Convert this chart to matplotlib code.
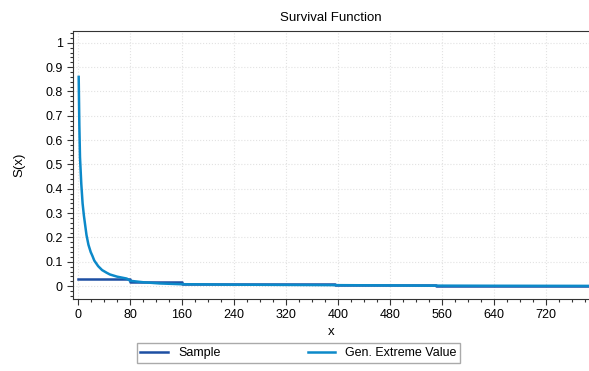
import matplotlib
matplotlib.use("Agg")
import matplotlib.pyplot as plt
from matplotlib.ticker import MultipleLocator

plt.rcParams["font.family"] = ["Liberation Sans", "DejaVu Sans"]

# 標本の生存関数（階段状）
sample_x = [0, 80, 80, 160, 160, 395, 395, 550, 550, 786]
sample_y = [0.030, 0.030, 0.018, 0.018, 0.008, 0.008, 0.004, 0.004, 0.001, 0.001]

# 一般化極値分布の生存関数
gev_x = [1, 2, 3, 5, 7, 9, 11, 13, 16, 19.5, 22, 25, 31, 37, 44, 49, 60, 75,
         80, 100, 126, 157, 200, 240, 320, 400, 480, 550, 640, 786]
gev_y = [0.86, 0.66, 0.53, 0.42, 0.34, 0.29, 0.25, 0.21, 0.17, 0.14, 0.125, 0.105,
         0.082, 0.066, 0.055, 0.048, 0.039, 0.031, 0.022, 0.016, 0.011, 0.008,
         0.007, 0.006, 0.005, 0.004, 0.003, 0.002, 0.0015, 0.001]

fig = plt.figure(figsize=(5.89, 3.71), dpi=100)
ax = fig.add_axes([0.124, 0.194, 0.876, 0.722])

ax.plot(sample_x, sample_y, color="#1d4fa3", lw=1.8, label="Sample")
ax.plot(gev_x, gev_y, color="#0c89c9", lw=1.8, label="Gen. Extreme Value")

ax.set_xlim(-7.7, 786)
ax.set_ylim(-0.053, 1.048)
ax.xaxis.set_major_locator(MultipleLocator(80))
ax.xaxis.set_minor_locator(MultipleLocator(20))
ax.yaxis.set_minor_locator(MultipleLocator(0.02))
ax.set_yticks([i / 10 for i in range(11)])
ax.set_yticklabels(["0"] + ["0.%d" % i for i in range(1, 10)] + ["1"])

ax.tick_params(which="major", direction="out", length=4, width=0.8, labelsize=9, color="#333333")
ax.tick_params(which="minor", direction="out", length=2, width=0.8, color="#333333")
ax.grid(True, which="major", color="#e2e2e2", linestyle=":", linewidth=0.8)

for side in ["left", "bottom", "top"]:
    ax.spines[side].set_color("#333333")
ax.spines["right"].set_visible(False)

ax.set_title("Survival Function", fontsize=9.5, pad=7)
ax.set_xlabel("x", fontsize=9.5, labelpad=3)
ax.set_ylabel("S(x)", fontsize=9.5, labelpad=14)

fig.legend(loc="lower center", bbox_to_anchor=(0.507, 0.005), ncol=2, fontsize=9,
           frameon=True, fancybox=False, edgecolor="#aaaaaa", framealpha=1,
           columnspacing=7, handlelength=2.2, borderpad=0.3)

fig.savefig("out.png", dpi=100)
plt.close(fig)
